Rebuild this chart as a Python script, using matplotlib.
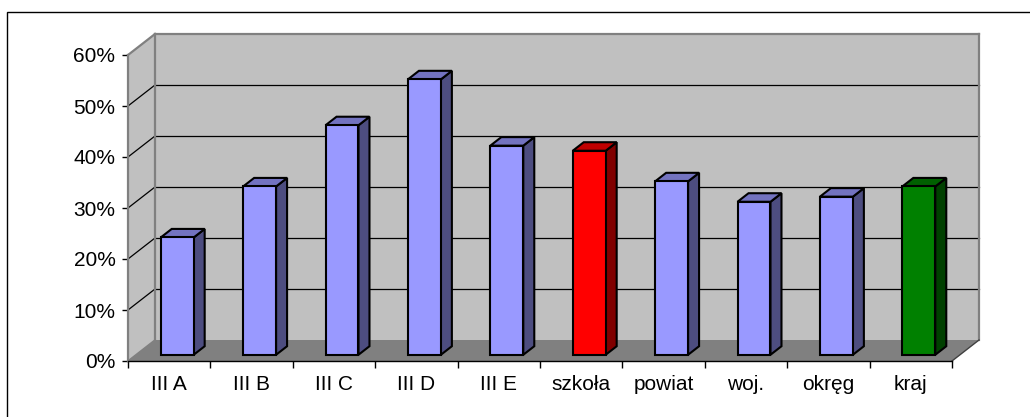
import matplotlib
matplotlib.use("Agg")
import matplotlib.pyplot as plt
from matplotlib.patches import Polygon
from matplotlib.lines import Line2D
from matplotlib.ticker import PercentFormatter, FixedLocator
from matplotlib.transforms import IdentityTransform

categories = ["III A", "III B", "III C", "III D", "III E",
              "szkoła", "powiat", "woj.", "okręg", "kraj"]
values = [0.23, 0.33, 0.45, 0.54, 0.41, 0.40, 0.34, 0.30, 0.31, 0.33]
y_ticks = [0.0, 0.1, 0.2, 0.3, 0.4, 0.5, 0.6]

# front / side / top colours for each bar
blue = ("#9999FF", "#4D4D80", "#7373C0")
red = ("#FF0000", "#800000", "#C00000")
green = ("#008000", "#004000", "#006000")
bar_colors = [blue] * 5 + [red] + [blue] * 3 + [green]

plt.rcParams["font.family"] = ["Liberation Sans", "DejaVu Sans"]

W, H = 1030, 417
fig = plt.figure(figsize=(W / 100, H / 100), dpi=100)
ax = fig.add_axes([128 / W, 56 / H, 824 / W, 306 / H])
ax.set_xlim(0, len(categories))
ax.set_ylim(0, y_ticks[-1])
ax.patch.set_visible(False)

# oblique depth of the plot box, pixels
DX, DY = 27, 21


def pt(x, y, d):
    px, py = ax.transData.transform((x, y))
    return (px + d * DX, py + d * DY)


def face(points, fc, ec, lw, z):
    ax.add_patch(Polygon([pt(*p) for p in points], closed=True, facecolor=fc,
                         edgecolor=ec, linewidth=lw, transform=IdentityTransform(),
                         clip_on=False, zorder=z, joinstyle="miter"))


def line(p0, p1, color, lw, z):
    a, b = pt(*p0), pt(*p1)
    ax.add_line(Line2D([a[0], b[0]], [a[1], b[1]], color=color, linewidth=lw,
                       transform=IdentityTransform(), clip_on=False, zorder=z))


n = len(categories)
top = y_ticks[-1]
# walls and floor
face([(0, 0, 1), (n, 0, 1), (n, top, 1), (0, top, 1)], "#C0C0C0", "none", 0, 0)
face([(0, 0, 0), (0, 0, 1), (0, top, 1), (0, top, 0)], "#C0C0C0", "none", 0, 0)
face([(0, 0, 0), (n, 0, 0), (n, 0, 1), (0, 0, 1)], "#808080", "none", 0, 0.5)

for t in y_ticks[1:-1]:
    line((0, t, 1), (n, t, 1), "black", 0.9, 1)
    line((0, t, 0), (0, t, 1), "black", 0.9, 1)

wall_edge = "#808080"
line((0, top, 0), (0, top, 1), wall_edge, 1.6, 1.2)
line((0, top, 1), (n, top, 1), wall_edge, 1.6, 1.2)
line((0, 0, 1), (0, top, 1), wall_edge, 1.6, 1.2)
line((n, 0, 1), (n, top, 1), wall_edge, 1.6, 1.2)
line((0, 0, 0), (0, 0, 1), wall_edge, 1.2, 1.2)
line((n, 0, 0), (n, 0, 1), "#404040", 1.0, 1.2)

# bars
bw = 0.4
d0, d1 = 8 / DX, 19 / DX
for i, (v, (cf, cs, ct)) in enumerate(zip(values, bar_colors)):
    x0, x1 = i + 0.5 - bw / 2, i + 0.5 + bw / 2
    face([(x1, 0, d0), (x1, 0, d1), (x1, v, d1), (x1, v, d0)], cs, "black", 1.5, 2)
    face([(x0, v, d0), (x1, v, d0), (x1, v, d1), (x0, v, d1)], ct, "black", 1.5, 2)
    face([(x0, 0, d0), (x1, 0, d0), (x1, v, d0), (x0, v, d0)], cf, "black", 1.5, 2)

# axes lines and ticks
for s in ("top", "right"):
    ax.spines[s].set_visible(False)
ax.spines["left"].set_color("#808080")
ax.spines["left"].set_linewidth(1.6)
ax.spines["bottom"].set_color("black")
ax.spines["bottom"].set_linewidth(1.0)
for s in ax.spines.values():
    s.set_zorder(3)

ax.set_yticks(y_ticks)
ax.yaxis.set_major_formatter(PercentFormatter(1.0, decimals=0))
ax.tick_params(axis="y", length=4, width=1.0, color="black", pad=5,
               labelsize=15, colors="black")
ax.xaxis.set_major_locator(FixedLocator(range(n + 1)))
ax.xaxis.set_minor_locator(FixedLocator([i + 0.5 for i in range(n)]))
ax.set_xticklabels([], minor=False)
ax.set_xticklabels(categories, minor=True)
ax.tick_params(axis="x", which="major", length=5, width=1.0, color="black")
ax.tick_params(axis="x", which="minor", length=0, pad=10, labelsize=15)

# outer chart border
fig.add_artist(plt.Rectangle((7 / W, -0.05), (W + 10) / W, 1.05 - 12 / H,
                             transform=fig.transFigure, fill=False,
                             edgecolor="black", linewidth=1.0))

fig.savefig("out.png", dpi=100)
